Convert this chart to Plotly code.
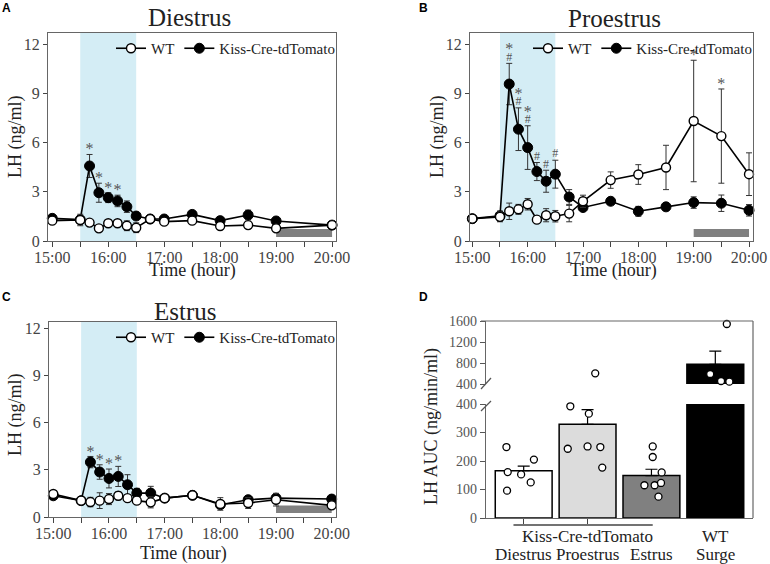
import plotly.graph_objects as go

# ---------------- data ----------------
TIMES = ["15:00", "15:30", "15:40", "15:50", "16:00", "16:10", "16:20", "16:30",
         "16:45", "17:00", "17:30", "18:00", "18:30", "19:00", "20:00"]
TIMES_PRO = ["15:00", "15:30", "15:40", "15:50", "16:00", "16:10", "16:20", "16:30",
             "16:45", "17:00", "17:30", "18:00", "18:30", "19:00", "19:30", "20:00"]

di_kiss = [1.38, 1.30, 4.57, 2.94, 2.64, 2.44, 2.09, 1.52, 1.34, 1.34, 1.62, 1.24, 1.58, 1.22, 0.97]
di_kiss_err = [0.15, 0.15, 0.70, 0.58, 0.30, 0.35, 0.35, 0.20, 0.12, 0.12, 0.15, 0.20, 0.30, 0.15, 0.10]
di_wt = [1.24, 1.28, 1.12, 0.77, 1.08, 1.08, 0.93, 0.81, 1.34, 1.18, 1.24, 0.91, 0.97, 0.77, 0.97]
di_wt_err = [0.15, 0.35, 0.12, 0.12, 0.20, 0.15, 0.30, 0.30, 0.10, 0.15, 0.15, 0.15, 0.15, 0.15, 0.10]

pro_kiss = [1.36, 1.53, 9.56, 6.81, 5.69, 4.23, 3.64, 4.07, 2.68, 2.04, 2.42, 1.81, 2.08, 2.34, 2.30, 1.87]
pro_kiss_err = [0.2, 0.3, 1.26, 1.3, 1.33, 0.55, 0.67, 0.85, 0.45, 0.2, 0.15, 0.3, 0.2, 0.35, 0.5, 0.35]
pro_wt = [1.36, 1.47, 1.81, 1.93, 2.24, 1.30, 1.57, 1.51, 1.67, 2.42, 3.71, 4.05, 4.48, 7.31, 6.39, 4.07]
pro_wt_err = [0.2, 0.3, 0.5, 0.3, 0.35, 0.15, 0.4, 0.35, 0.5, 0.37, 0.5, 0.6, 1.35, 3.7, 2.87, 1.3]

es_kiss = [1.35, 1.04, 3.49, 2.86, 2.45, 2.58, 2.05, 1.52, 1.52, 1.20, 1.38, 0.78, 1.10, 1.20, 1.14]
es_kiss_err = [0.15, 0.10, 0.36, 0.46, 0.60, 0.64, 0.64, 0.30, 0.43, 0.15, 0.15, 0.20, 0.15, 0.30, 0.15]
es_wt = [1.46, 1.04, 0.95, 1.04, 1.14, 1.35, 1.20, 1.04, 0.93, 1.20, 1.38, 0.83, 0.89, 1.10, 0.74]
es_wt_err = [0.20, 0.10, 0.30, 0.50, 0.35, 0.25, 0.20, 0.15, 0.35, 0.20, 0.20, 0.40, 0.35, 0.40, 0.15]

di_stars = ["15:40", "15:50", "16:00", "16:10"]
pro_stars = ["15:40", "15:50", "16:00", "19:00", "19:30"]
pro_hashes = ["15:40", "15:50", "16:00", "16:10", "16:20", "16:30"]
es_stars = ["15:40", "15:50", "16:00", "16:10"]

stim_window = ("15:30", "16:30")
dark_window = ("19:00", "20:00")
dark_band = (0.25, 0.73)

auc_groups = ["Diestrus", "Proestrus", "Estrus", "Surge"]
auc_mean = [166, 329, 149, 775]
auc_sem = [16, 51, 22, 253]
auc_points = [
    [249, 161, 153, 205, 125, 96],
    [392, 366, 243, 251, 249, 177, 603],
    [251, 214, 160, 115, 115, 123, 75],
    [1543, 590, 457, 444],
]
# horizontal scatter of the dots inside each bar (layout only)
auc_jitter = [
    [-0.27, -0.25, -0.04, 0.16, 0.11, -0.26],
    [-0.27, 0.02, -0.31, 0.0, 0.2, 0.23, 0.12],
    [0.02, 0.02, 0.16, -0.11, 0.05, 0.15, 0.11],
    [0.18, -0.08, 0.09, 0.22],
]
AXIS_BREAK = 400

SERIF = "Liberation Serif"
W, H = 770, 564


def hours(t):
    h, m = t.split(":")
    return int(h) + int(m) / 60


def px(x):
    return x / W


def py(y):
    return 1 - y / H


fig = go.Figure()

panels = [
    # name, times, kiss, kiss_err, wt, wt_err, stars, hashes, axis suffix, legend
    ("Diestrus", TIMES, di_kiss, di_kiss_err, di_wt, di_wt_err, di_stars, [], "", "legend"),
    ("Proestrus", TIMES_PRO, pro_kiss, pro_kiss_err, pro_wt, pro_wt_err, pro_stars, pro_hashes, "2", "legend2"),
    ("Estrus", TIMES, es_kiss, es_kiss_err, es_wt, es_wt_err, es_stars, [], "3", "legend3"),
]

for name, times, kiss, kerr, wt, werr, stars, hashes, ax, leg in panels:
    x = [hours(t) for t in times]
    fig.add_trace(go.Scatter(
        x=x, y=kiss, mode="lines+markers", name="Kiss-Cre-tdTomato",
        xaxis="x" + ax, yaxis="y" + ax, legend=leg, legendrank=2,
        line=dict(color="black", width=1.6),
        marker=dict(symbol="circle", size=10, color="black", line=dict(color="black", width=1)),
        error_y=dict(type="data", array=kerr, color="#333", thickness=1, width=3),
        cliponaxis=False,
    ))
    fig.add_trace(go.Scatter(
        x=x, y=wt, mode="lines+markers", name="WT",
        xaxis="x" + ax, yaxis="y" + ax, legend=leg, legendrank=1,
        line=dict(color="black", width=1.6),
        marker=dict(symbol="circle", size=9, color="white", line=dict(color="black", width=1.4)),
        error_y=dict(type="data", array=werr, color="#333", thickness=1, width=3),
        cliponaxis=False,
    ))
    # significance marks sit just above the highest error bar at that time
    tops = {t: max(k + ke, w + we) for t, k, ke, w, we in zip(times, kiss, kerr, wt, werr)}
    hx, hy = [], []
    for t in hashes:
        hx.append(hours(t))
        hy.append(tops[t] + 0.35)
    sx, sy = [], []
    for t in stars:
        sx.append(hours(t))
        sy.append(tops[t] + (0.8 if t in hashes else 0.25))
    for mx, my, sym, sz in ((hx, hy, "#", 12), (sx, sy, "*", 16)):
        if mx:
            fig.add_trace(go.Scatter(
                x=mx, y=my, mode="text", text=[sym] * len(mx), showlegend=False,
                xaxis="x" + ax, yaxis="y" + ax, cliponaxis=False,
                textfont=dict(family=SERIF, size=sz, color="#555"),
            ))
    fig.add_shape(type="rect", xref="x" + ax, yref="y" + ax + " domain",
                  x0=hours(stim_window[0]), x1=hours(stim_window[1]), y0=0, y1=1,
                  fillcolor="#d4edf5", line_width=0, layer="below")
    fig.add_shape(type="rect", xref="x" + ax, yref="y" + ax,
                  x0=hours(dark_window[0]), x1=hours(dark_window[1]),
                  y0=dark_band[0], y1=dark_band[1],
                  fillcolor="#808080", line_width=0, layer="below")

# ---------------- panel D ----------------
xs = list(range(len(auc_groups)))
low_err = [e if m < AXIS_BREAK else 0 for m, e in zip(auc_mean, auc_sem)]
bar_colors = ["white", "#dcdcdc", "#808080", "black"]
fig.add_trace(go.Bar(
    x=xs, y=auc_mean, width=0.89, xaxis="x4", yaxis="y4", showlegend=False,
    marker=dict(color=bar_colors, line=dict(color="black", width=1.5)),
    error_y=dict(type="data", array=low_err, arrayminus=[0] * 4, symmetric=False,
                 color="black", thickness=1.2, width=6),
))
hi = [i for i, m in enumerate(auc_mean) if m >= AXIS_BREAK]
fig.add_trace(go.Bar(
    x=hi, y=[auc_mean[i] for i in hi], width=0.89, xaxis="x4", yaxis="y5", showlegend=False,
    marker=dict(color=[bar_colors[i] for i in hi], line=dict(color="black", width=1.5)),
    error_y=dict(type="data", array=[auc_sem[i] for i in hi], arrayminus=[0] * len(hi),
                 symmetric=False, color="black", thickness=1.2, width=6),
))
for seg, keep in (("y4", lambda v: v < AXIS_BREAK), ("y5", lambda v: v >= AXIS_BREAK)):
    px_, py_ = [], []
    for i, (vals, jit) in enumerate(zip(auc_points, auc_jitter)):
        for v, j in zip(vals, jit):
            if keep(v):
                px_.append(i + j)
                py_.append(v)
    fig.add_trace(go.Scatter(
        x=px_, y=py_, mode="markers", xaxis="x4", yaxis=seg, showlegend=False, cliponaxis=False,
        marker=dict(symbol="circle", size=7, color="white", line=dict(color="black", width=1.3)),
    ))

# dagger above proestrus bar
fig.add_annotation(x=1, y=auc_mean[1] + auc_sem[1] + 55, xref="x4", yref="y4", text="†",
                   showarrow=False, font=dict(family=SERIF, size=13, color="#666"))

# ---------------- axes ----------------
axis_font = dict(family=SERIF, size=16, color="#444")
hour_vals = [15 + 0.5 * i for i in range(11)]
hour_text = [f"{int(v)}:00" if v == int(v) else "" for v in hour_vals]

domains = {
    "": dict(x=[px(48), px(336)], y=[py(241), py(33)], xr=[14.924, 20.07], yr=[0, 12.67]),
    "2": dict(x=[px(470), px(753)], y=[py(241), py(33)], xr=[14.958, 20.072], yr=[0, 12.67]),
    "3": dict(x=[px(49), px(336)], y=[py(517), py(322)], xr=[14.923, 20.077], yr=[0, 12.4]),
}
common = dict(showgrid=False, zeroline=False, automargin=False, showline=True,
              linecolor="#666", linewidth=1.2, ticks="outside")
layout_axes = {}
for ax, d in domains.items():
    layout_axes["xaxis" + ax] = dict(
        domain=d["x"], range=d["xr"], anchor="y" + ax, tickvals=hour_vals, ticktext=hour_text,
        ticklen=5, tickcolor="#444", mirror=True, tickfont=axis_font, ticklabelstandoff=-3, **common,
    )
    layout_axes["yaxis" + ax] = dict(
        domain=d["y"], range=d["yr"], anchor="x" + ax, tickvals=[0, 3, 6, 9, 12],
        ticklen=4, tickcolor="#444", mirror=True, tickfont=axis_font, **common,
    )

d_font = dict(family=SERIF, size=14, color="#555")
layout_axes["xaxis4"] = dict(
    domain=[px(486), px(753)], range=[-0.59, 3.59], anchor="y4", tickvals=[0, 1], ticktext=["", ""],
    ticklen=5, tickcolor="#444", **common,
)
layout_axes["yaxis4"] = dict(
    domain=[py(518), py(404)], range=[0, AXIS_BREAK], anchor="x4", tickvals=[0, 100, 200, 300, 400],
    ticklen=5, tickcolor="#555", tickfont=d_font, **common,
)
layout_axes["yaxis5"] = dict(
    domain=[py(384), py(321)], range=[AXIS_BREAK, 1600], anchor="x4", tickvals=[400, 800, 1200, 1600],
    ticklen=5, tickcolor="#555", tickfont=d_font, **common,
)

legend_style = dict(orientation="h", xanchor="right", yanchor="top", bgcolor="rgba(0,0,0,0)",
                    font=dict(family=SERIF, size=15, color="#222"), itemwidth=30,
                    traceorder="normal", tracegroupgap=0)

fig.update_layout(
    width=W, height=H, margin=dict(l=0, r=0, t=0, b=0, autoexpand=False),
    paper_bgcolor="white", plot_bgcolor="white",
    font=dict(family=SERIF, color="#222"),
    legend=dict(x=px(340), y=py(32), **legend_style),
    legend2=dict(x=px(757), y=py(32), **legend_style),
    legend3=dict(x=px(340), y=py(321), **legend_style),
    **layout_axes,
)

# frame + bracket + axis break marks for panel D
line_c = dict(color="#666", width=1.2)
fig.add_shape(type="line", xref="paper", yref="paper", x0=px(481), x1=px(753), y0=py(321), y1=py(321), line=line_c)
fig.add_shape(type="line", xref="paper", yref="paper", x0=px(753), x1=px(753), y0=py(321), y1=py(518), line=line_c)
fig.add_shape(type="line", xref="x4", yref="paper", x0=-0.16, x1=2.02, y0=py(525), y1=py(525),
              line=dict(color="#444", width=1.5))
for (x0, y0, x1, y1) in ((481, 389, 491, 378), (481, 411, 491, 401)):
    fig.add_shape(type="line", xref="paper", yref="paper", x0=px(x0), x1=px(x1), y0=py(y0), y1=py(y1),
                  line=dict(color="#555", width=1.2))

# ---------------- text ----------------
def label(text, x, y, size, angle=0, xref="paper", family=SERIF, color="#222"):
    fig.add_annotation(x=x, y=py(y), xref=xref, yref="paper", text=text, showarrow=False,
                       xanchor="center", yanchor="middle", textangle=angle,
                       font=dict(family=family, size=size, color=color))


for t, x, y, s, ang in [
    ("Diestrus", 189, 18, 25, 0), ("Proestrus", 614, 19, 25, 0), ("Estrus", 185, 311, 25, 0),
    ("LH (ng/ml)", 15, 137, 18, -90), ("LH (ng/ml)", 437, 137, 18, -90), ("LH (ng/ml)", 15, 415, 18, -90),
    ("Time (hour)", 192, 270, 18, 0), ("Time (hour)", 613, 270, 18, 0), ("Time (hour)", 183, 553, 18, 0),
    ("LH AUC (ng/min/ml)", 431, 427, 18, -90),
]:
    label(t, px(x), y, s, ang)

for letter, x, y in (("A", 6, 8), ("B", 424, 8), ("C", 6, 297), ("D", 424, 297)):
    label(f"<b>{letter}</b>", px(x), y, 12, family="Liberation Sans", color="black")

label("Kiss-Cre-tdTomato", 1, 536, 17, xref="x4")
label("WT", 3, 536, 17, xref="x4")
for i, g in enumerate(auc_groups):
    label(g, i, 554, 17, xref="x4")

# drop the browser's default page margin so the figure sits at the window's corner
fig.write_html("out.html", config={"displayModeBar": False},
               post_script="document.body.style.margin='0';")
